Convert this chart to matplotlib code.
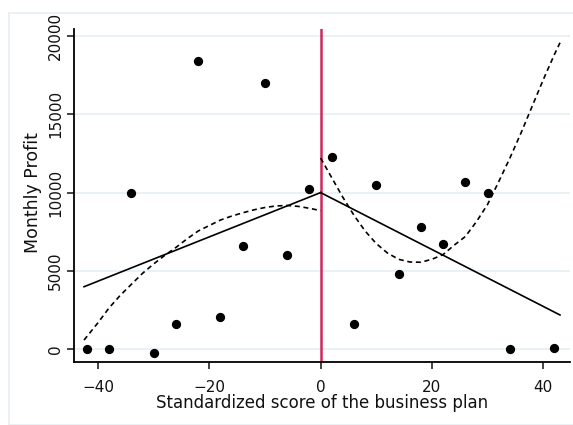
import matplotlib
matplotlib.use('Agg')
from matplotlib import pyplot as plt
from matplotlib.patches import Rectangle
import numpy as np

plt.rcParams['font.family'] = ['DejaVu Sans']

# binned scatter points
score = [-42, -38, -34, -30, -26, -22, -18, -14, -10, -6, -2,
         2, 6, 10, 14, 18, 22, 26, 30, 34, 42]
profit = [0, 0, 10000, -200, 1600, 18400, 2100, 6600, 17000, 6000, 10200,
          12300, 1600, 10500, 4800, 7800, 6700, 10700, 10000, 0, 100]

# linear fits on each side of the cutoff
lin_left_x = [-42.5, 0]
lin_left_y = [4000, 10000]
lin_right_x = [0, 43]
lin_right_y = [10000, 2200]

# polynomial fits
poly_left_x = [-42.5, -40, -38, -36, -34, -32, -30, -28, -26, -24, -22,
               -20, -18, -16, -14, -12, -10, -8, -6, -4, -2, 0]
poly_left_y = [600, 1700, 2650, 3450, 4150, 4850, 5450, 6000, 6500, 7050, 7550,
               7900, 8250, 8500, 8710, 8900, 9050, 9150, 9180, 9120, 9000, 8850]
poly_right_x = [0, 2, 4, 6, 8, 10, 12, 14, 16, 18, 20, 22, 24, 26,
                28, 30, 32, 34, 36, 38, 40, 42, 43]
poly_right_y = [12200, 10950, 9700, 8550, 7550, 6750, 6150, 5750, 5580, 5560,
                5750, 6050, 6650, 7200, 8150, 9250, 10700, 12200, 13800,
                15500, 17200, 18800, 19550]

yticks = [0, 5000, 10000, 15000, 20000]
xticks = [-40, -20, 0, 20, 40]

fig = plt.figure(figsize=(5.73, 4.25), dpi=100)
fig.patches.append(Rectangle((9/573, 0), 1, 1 - 13/425, transform=fig.transFigure,
                             fill=False, edgecolor='#e6edf1', linewidth=1.2))
ax = fig.add_axes([74/573, 1 - 362/425, 496/573, 333/425])

for t in yticks:
    ax.axhline(t, color='#e8f0f4', linewidth=1.3, zorder=0)

ax.axvline(0, color='#d0285a', linewidth=1.8, zorder=1)

ax.plot(lin_left_x, lin_left_y, color='black', linewidth=1.2, zorder=2)
ax.plot(lin_right_x, lin_right_y, color='black', linewidth=1.2, zorder=2)
ax.plot(poly_left_x, poly_left_y, color='black', linewidth=1.2,
        dashes=(3, 2.2), zorder=2)
ax.plot(poly_right_x, poly_right_y, color='black', linewidth=1.2,
        dashes=(3, 2.2), zorder=2)

ax.scatter(score, profit, s=32, color='black', zorder=3)

ax.set_xlim(-44.3, 44.8)
ax.set_ylim(-797, 20427)
ax.set_xticks(xticks)
ax.set_yticks(yticks)
ax.set_yticklabels([str(t) for t in yticks], rotation=90, va='center')

for s in ['top', 'right']:
    ax.spines[s].set_visible(False)
for s in ['left', 'bottom']:
    ax.spines[s].set_linewidth(1.3)

ax.tick_params(axis='both', length=5, width=1.1, labelsize=11, colors='#111111')
ax.tick_params(axis='x', pad=8)
ax.tick_params(axis='y', pad=3)

ax.set_xlabel('Standardized score of the business plan', fontsize=12, color='#111111')
ax.set_ylabel('Monthly Profit', fontsize=12.5, color='#111111')
ax.xaxis.set_label_coords(0.5, -0.097)
ax.yaxis.set_label_coords(-0.064, 0.51)

fig.savefig('out.png', dpi=100)
